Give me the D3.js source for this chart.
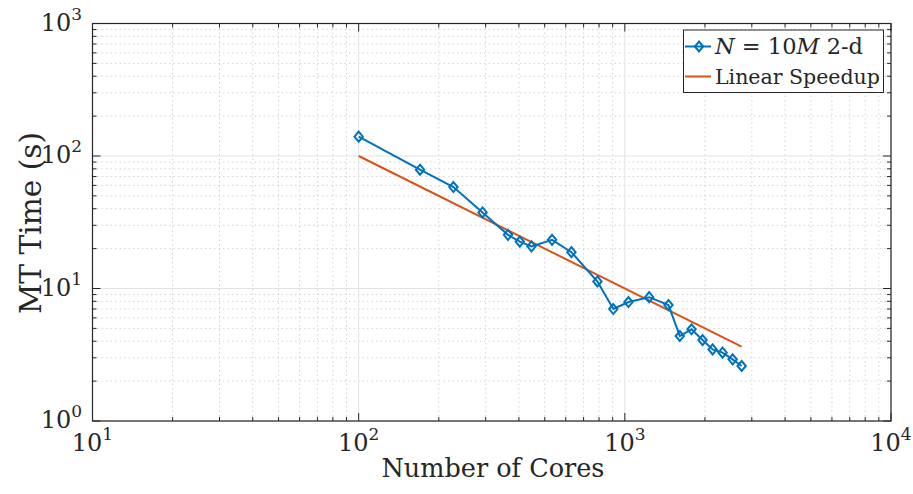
<!DOCTYPE html>
<html>
<head>
<meta charset="utf-8">
<script src="https://cdn.jsdelivr.net/npm/d3@7"></script>
<style>
  html, body { margin: 0; padding: 0; background: #fff; }
  svg { display: block; }
</style>
</head>
<body>
<svg id="chart" width="913" height="494"></svg>
<script>
// Measured MT times (s) for N = 10M, 2-d, against number of cores
const cores = [100, 170, 227, 292, 364, 403, 446, 533, 630, 789, 905, 1032, 1234, 1459, 1609, 1781, 1959, 2137, 2329, 2541, 2747];
const mtTime = [140, 78.8, 58.3, 37.5, 25.4, 22.6, 20.8, 23.3, 18.8, 11.3, 7.0, 7.9, 8.6, 7.5, 4.38, 4.92, 4.08, 3.47, 3.28, 2.92, 2.60];

// Ideal (linear) speedup line end points
const idealCores = [100, 2747];
const idealTime = [100, 3.64];

// Axis decades
const xDecades = [1, 2, 3, 4];
const yDecades = [0, 1, 2, 3];

const seriesLabel = "N = 10M 2-d";
const idealLabel = "Linear Speedup";

const FONT = "'DejaVu Serif', 'Noto Serif', serif";

const svg = d3.select("#chart");
const L = 92.5, R = 891, T = 23.5, B = 421;

const x = d3.scaleLog().domain([10, 10000]).range([L, R]);
const y = d3.scaleLog().domain([1, 1000]).range([B, T]);

const axisColor = "#262626";
const blue = "#0072BD", orange = "#D95319";

function txt(parent) {
  return parent.append("text").attr("font-family", FONT).style("font-family", FONT).attr("fill", axisColor);
}
// scale a text's font size so that it spans the given width
function fitWidth(sel, width) {
  const fs = +sel.attr("font-size");
  const w = sel.node().getComputedTextLength();
  if (w > 0) sel.attr("font-size", (fs * width / w).toFixed(2));
  return sel;
}

// minor tick values across the decades
function minors(lo, hi) {
  const out = [];
  for (let e = lo; e < hi; e++) for (let m = 2; m <= 9; m++) out.push(m * Math.pow(10, e));
  return out;
}
const xMinor = minors(1, 4), yMinor = minors(0, 3);
const xMajor = xDecades.map(e => Math.pow(10, e));
const yMajor = yDecades.map(e => Math.pow(10, e));

const grid = svg.append("g");
// minor grid (dotted)
grid.selectAll(".xm").data(xMinor).join("line")
  .attr("x1", d => x(d)).attr("x2", d => x(d)).attr("y1", T).attr("y2", B)
  .attr("stroke", "#d4d4d4").attr("stroke-width", 1).attr("stroke-dasharray", "1.5,3");
grid.selectAll(".ym").data(yMinor).join("line")
  .attr("y1", d => y(d)).attr("y2", d => y(d)).attr("x1", L).attr("x2", R)
  .attr("stroke", "#d4d4d4").attr("stroke-width", 1).attr("stroke-dasharray", "1.5,3");
// major grid (solid)
grid.selectAll(".xM").data(xMajor).join("line")
  .attr("x1", d => x(d)).attr("x2", d => x(d)).attr("y1", T).attr("y2", B)
  .attr("stroke", "#e2e2e2").attr("stroke-width", 1);
grid.selectAll(".yM").data(yMajor).join("line")
  .attr("y1", d => y(d)).attr("y2", d => y(d)).attr("x1", L).attr("x2", R)
  .attr("stroke", "#e2e2e2").attr("stroke-width", 1);

// inward ticks on all four sides
const ticks = svg.append("g").attr("stroke", axisColor).attr("stroke-width", 1);
function xTicks(vals, len) {
  vals.forEach(v => {
    ticks.append("line").attr("x1", x(v)).attr("x2", x(v)).attr("y1", B).attr("y2", B - len);
    ticks.append("line").attr("x1", x(v)).attr("x2", x(v)).attr("y1", T).attr("y2", T + len);
  });
}
function yTicks(vals, len) {
  vals.forEach(v => {
    ticks.append("line").attr("y1", y(v)).attr("y2", y(v)).attr("x1", L).attr("x2", L + len);
    ticks.append("line").attr("y1", y(v)).attr("y2", y(v)).attr("x1", R).attr("x2", R - len);
  });
}
xTicks(xMajor, 8); xTicks(xMinor, 4);
yTicks(yMajor, 8); yTicks(yMinor, 4);

// axes box
svg.append("rect").attr("x", L).attr("y", T).attr("width", R - L).attr("height", B - T)
  .attr("fill", "none").attr("stroke", axisColor).attr("stroke-width", 1.2);

// tick labels as 10^e
function powLabel(sel, e) {
  sel.append("tspan").text("10");
  sel.append("tspan").attr("font-size", 17).attr("dy", -11).text(String(e));
}
xDecades.forEach(e => {
  const t = txt(svg).attr("x", x(Math.pow(10, e))).attr("y", 451)
    .attr("text-anchor", "middle").attr("font-size", 24);
  powLabel(t, e);
});
yDecades.forEach(e => {
  const t = txt(svg).attr("x", 82).attr("y", y(Math.pow(10, e)) + 7)
    .attr("text-anchor", "end").attr("font-size", 24);
  powLabel(t, e);
});

// axis labels
fitWidth(txt(svg).attr("x", 493).attr("y", 477).attr("text-anchor", "middle")
  .attr("font-size", 27).text("Number of Cores"), 223);
fitWidth(txt(svg).attr("transform", "translate(41,223) rotate(-90)").attr("text-anchor", "middle")
  .attr("font-size", 27).text("MT Time (s)"), 182);

// data
const pts = cores.map((c, i) => [c, mtTime[i]]);
const ideal = idealCores.map((c, i) => [c, idealTime[i]]);
const line = d3.line().x(d => x(d[0])).y(d => y(d[1]));

svg.append("path").datum(ideal).attr("d", line)
  .attr("fill", "none").attr("stroke", orange).attr("stroke-width", 2);
svg.append("path").datum(pts).attr("d", line)
  .attr("fill", "none").attr("stroke", blue).attr("stroke-width", 2);

const diamond = (cx, cy) => `M${cx},${cy - 5}L${cx + 4.2},${cy}L${cx},${cy + 5}L${cx - 4.2},${cy}Z`;
svg.append("g").selectAll("path").data(pts).join("path")
  .attr("d", d => diamond(x(d[0]), y(d[1])))
  .attr("fill", "none").attr("stroke", blue).attr("stroke-width", 2);

// legend
const lg = svg.append("g");
lg.append("rect").attr("x", 683.5).attr("y", 30).attr("width", 200).attr("height", 62.5)
  .attr("fill", "#fff").attr("stroke", axisColor).attr("stroke-width", 1);
lg.append("line").attr("x1", 685).attr("x2", 711).attr("y1", 46.5).attr("y2", 46.5)
  .attr("stroke", blue).attr("stroke-width", 2);
lg.append("path").attr("d", diamond(699, 46.5)).attr("fill", "none").attr("stroke", blue).attr("stroke-width", 2);
lg.append("line").attr("x1", 685).attr("x2", 711).attr("y1", 76.5).attr("y2", 76.5)
  .attr("stroke", orange).attr("stroke-width", 2);

const parts = seriesLabel.split(" "); // ["N","=","10M","2-d"]
const t1 = txt(lg).attr("x", 715).attr("y", 53.5).attr("font-size", 22);
t1.append("tspan").attr("font-style", "italic").text(parts[0]);
t1.append("tspan").text(" " + parts[1] + " " + parts[2].replace("M", ""));
t1.append("tspan").attr("font-style", "italic").text("M");
t1.append("tspan").text(" " + parts[3]);
fitWidth(t1, 148);

fitWidth(txt(lg).attr("x", 715).attr("y", 83.5).attr("font-size", 22).text(idealLabel), 165);
</script>
</body>
</html>
